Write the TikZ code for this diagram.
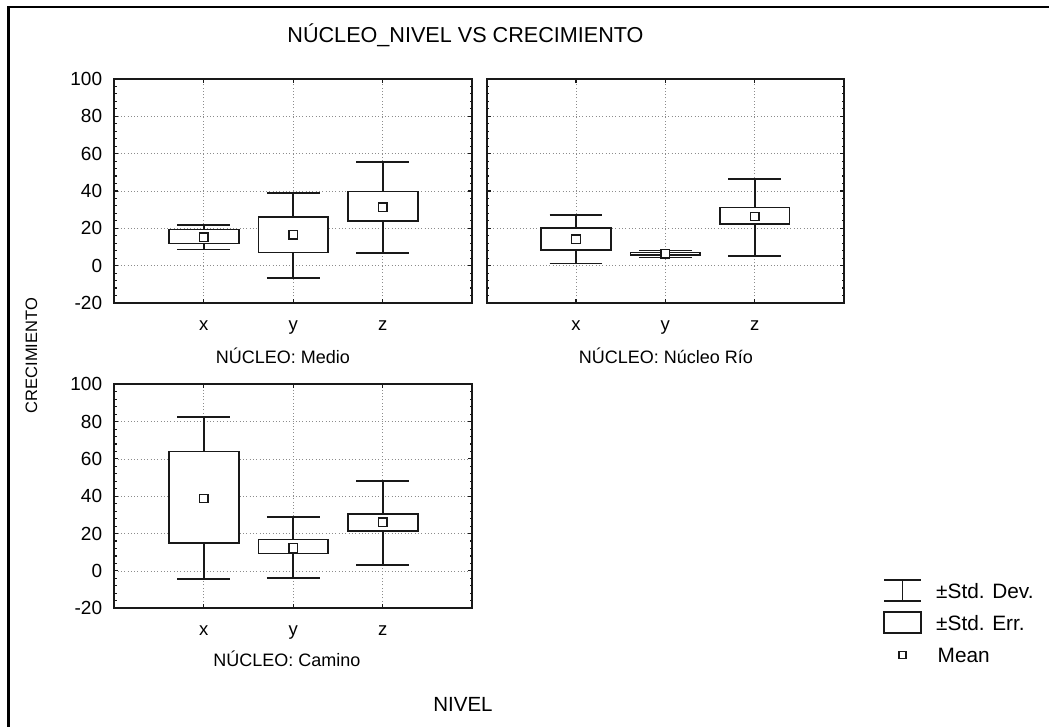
\documentclass[tikz,border=0pt]{standalone}
\usepackage{fontspec}
\setmainfont{Liberation Sans}
\usepackage{tikz}
\newcommand{\fsz}[1]{\fontsize{#1}{#1}\selectfont}
% name, category, sd low, sd high, se low, se high, mean
\newcommand{\bw}[7]{%
\draw[whisk] (#2,#3) -- (#2,#4);
\draw[whisk] (#2-0.296,#3) -- (#2+0.296,#3) (#2-0.296,#4) -- (#2+0.296,#4);
\draw[sebox] (#2-0.39,#5) rectangle (#2+0.39,#6);
\node[meanpt] (#1) at (#2,#7) {};
}
\newcommand{\plotframe}[1]{%
\draw[grd] (0,0) -- (4,0) (0,20) -- (4,20) (0,40) -- (4,40) (0,60) -- (4,60) (0,80) -- (4,80);
\draw[grd] (1,-20) -- (1,100) (2,-20) -- (2,100) (3,-20) -- (3,100);
\foreach \v in {-16,-12,...,96} {\draw[tck] (0,\v) -- ++(2.5pt,0) (4,\v) -- ++(-2.5pt,0);}
\foreach \v in {0,20,...,80} {\draw[tck] (0,\v) -- ++(4pt,0) (4,\v) -- ++(-4pt,0);}
\foreach \c in {1,2,3} {\draw[tck] (\c,-20) -- ++(0,4pt) (\c,100) -- ++(0,-4pt);}
\draw[frm] (0,-20) rectangle (4,100);
\node[clab] (#1x) at (1,-20) [yshift=-27.5pt] {x};
\node[clab] (#1y) at (2,-20) [yshift=-27.5pt] {y};
\node[clab] (#1z) at (3,-20) [yshift=-27.5pt] {z};
}
\newcommand{\ylabels}[1]{%
\foreach \v in {-20,0,...,100} {\node[tlab] (#1\v) at (0,\v) {\v};}
}

\begin{document}
\begin{tikzpicture}[x=1pt,y=-1pt]
\tikzstyle{grd}=[black!45, line width=0.8pt, dash pattern=on 0.9pt off 2.4pt]
\tikzstyle{frm}=[line width=2pt, black!90]
\tikzstyle{tck}=[line width=1.1pt, black!90]
\tikzstyle{whisk}=[line width=1.7pt, black!90]
\tikzstyle{sebox}=[line width=1.7pt, draw=black!90, fill=white]
\tikzstyle{meanpt}=[rectangle, draw=black!90, fill=white, line width=1.4pt, minimum size=8.5pt, inner sep=0pt]
\tikzstyle{tlab}=[anchor=east, xshift=-12pt, inner sep=0pt, font=\fsz{19}]
\tikzstyle{clab}=[anchor=base, inner sep=0pt, font=\fsz{18.5}]
\tikzstyle{plab}=[anchor=base, inner sep=0pt, font=\fsz{18}]
\tikzstyle{lgt}=[anchor=base west, inner sep=0pt, font=\fsz{20.8}]
\useasboundingbox (0,0) rectangle (1049,727);
\draw[line width=2.3pt] (8.5,727) -- (8.5,7) -- (1049,7);

\node[anchor=base, inner sep=0pt, font=\fsz{21.6}] (title) at (465.5,42.5) {NÚCLEO\_NIVEL VS CRECIMIENTO};
\node[rotate=90, inner sep=0pt, font=\fsz{16.5}] (ylab) at (31.5,355.6) {CRECIMIENTO};
\node[anchor=base, inner sep=0pt, font=\fsz{20.5}] (xlab) at (463,711.5) {NIVEL};

% Medio
\begin{scope}[shift={(114.3,265.6)}, x=89.5pt, y=1.866pt]
\plotframe{A}
\ylabels{A}
\bw{Am1}{1}{8.6}{21.7}{11.9}{19.4}{15.1}
\bw{Am2}{2}{-6.8}{39}{7}{26}{16.5}
\bw{Am3}{3}{6.6}{55.6}{23.8}{39.7}{31.2}
\end{scope}
\node[plab] (medio) at (283,363.3) {NÚCLEO: Medio};

% Nucleo Rio
\begin{scope}[shift={(486.7,265.6)}, x=89.33pt, y=1.866pt]
\plotframe{B}
\bw{Bm1}{1}{1.1}{27}{8.4}{20.2}{14.2}
\bw{Bm2}{2}{4.3}{8.1}{5.8}{7.0}{6.3}
\bw{Bm3}{3}{5.2}{46.5}{22.2}{31.2}{26.3}
\end{scope}
\node[plab] (rio) at (666,363.3) {NÚCLEO: Núcleo Río};

% Camino
\begin{scope}[shift={(114.3,570.9)}, x=89.5pt, y=1.866pt]
\plotframe{C}
\ylabels{C}
\bw{Cm1}{1}{-4.3}{82.4}{15}{64}{38.8}
\bw{Cm2}{2}{-3.7}{28.7}{9.4}{16.9}{12.3}
\bw{Cm3}{3}{3.0}{48.1}{21.4}{30.6}{26}
\end{scope}
\node[plab] (camino) at (287,666.7) {NÚCLEO: Camino};

% legend
\draw[whisk] (884,580) -- (921,580) (884,600.7) -- (921,600.7) (902.5,580) -- (902.5,600.7);
\draw[sebox] (884,612.3) rectangle (920.7,632.7);
\node[meanpt, minimum size=7pt, line width=1.1pt] (lgmean) at (902.5,655) {};
\node[lgt] (lgdev) at (936,598.3) {±Std. Dev.};
\node[lgt] (lgerr) at (936,630) {±Std. Err.};
\node[lgt] (lgmeantxt) at (937.5,662.3) {Mean};
\end{tikzpicture}
\end{document}
